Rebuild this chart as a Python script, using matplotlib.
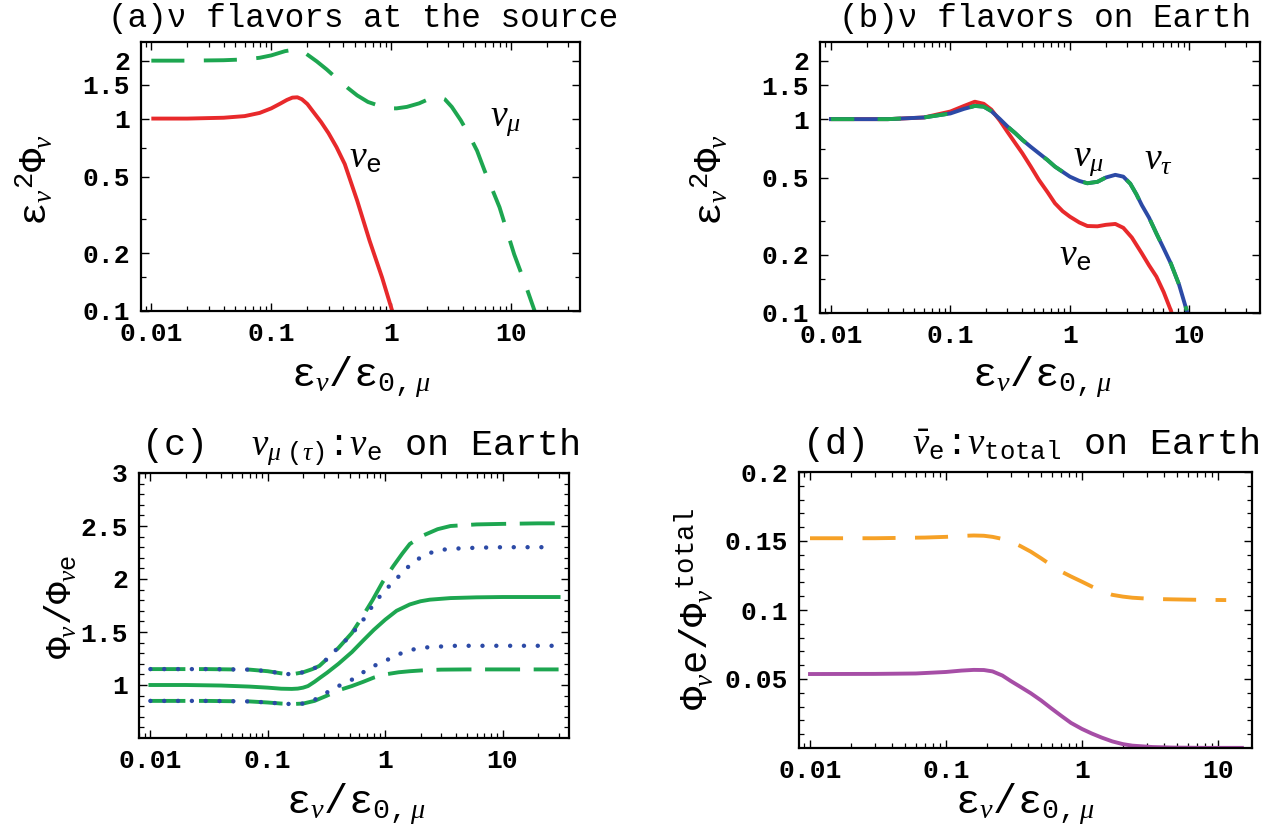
import matplotlib
matplotlib.use("Agg")
import matplotlib.pyplot as plt
from matplotlib.ticker import FixedLocator, NullFormatter, FixedFormatter

plt.rcParams['font.family'] = ['Liberation Mono', 'DejaVu Sans']
plt.rcParams['mathtext.fontset'] = 'custom'
plt.rcParams['mathtext.rm'] = 'Liberation Mono'
plt.rcParams['mathtext.it'] = 'Liberation Serif:italic'
plt.rcParams['mathtext.bf'] = 'Liberation Mono:bold'
plt.rcParams['mathtext.tt'] = 'Liberation Mono'
plt.rcParams['mathtext.fallback'] = 'stix'

# ---------------- data ----------------
# (a) source
a_nue_x = [0.01, 0.02, 0.04, 0.06, 0.08, 0.1, 0.12, 0.135, 0.15, 0.165, 0.18, 0.2, 0.22, 0.26, 0.30, 0.35, 0.41,
           0.52, 0.66, 0.84, 1.02]
a_nue_y = [1.0, 1.0, 1.01, 1.03, 1.07, 1.13, 1.2, 1.25, 1.285, 1.29, 1.26, 1.19, 1.10, 0.96, 0.84, 0.71, 0.58,
           0.375, 0.232, 0.149, 0.10]
a_num_x = [0.01, 0.02, 0.04, 0.06, 0.08, 0.1, 0.13, 0.16, 0.19, 0.24, 0.29, 0.35, 0.43, 0.52, 0.64, 0.78, 0.95,
           1.11, 1.35, 1.71, 2.1, 2.45, 2.8, 3.2, 3.8, 4.4, 5.2, 6.0, 8.0, 10.6, 13, 15.7]
a_num_y = [2.0, 2.0, 2.01, 2.03, 2.07, 2.13, 2.24, 2.29, 2.2, 1.98, 1.80, 1.62, 1.45, 1.32, 1.22, 1.17, 1.13,
           1.13, 1.15, 1.2, 1.27, 1.30, 1.26, 1.15, 0.98, 0.835, 0.68, 0.537, 0.346, 0.197, 0.14, 0.10]

# (b) Earth
b_nue_x = [0.01, 0.03, 0.06, 0.1, 0.13, 0.16, 0.19, 0.22, 0.26, 0.3, 0.35, 0.4, 0.47, 0.55, 0.65, 0.75, 0.87, 1.0,
           1.2, 1.4, 1.7, 2.0, 2.4, 2.8, 3.3, 4.0, 4.6, 5.3, 6.1, 7.0]
b_nue_y = [1.0, 1.0, 1.02, 1.095, 1.17, 1.23, 1.2, 1.12, 0.98, 0.86, 0.75, 0.667, 0.57, 0.486, 0.42, 0.368, 0.335,
           0.314, 0.293, 0.281, 0.28, 0.285, 0.288, 0.275, 0.245, 0.203, 0.176, 0.154, 0.128, 0.103]
b_numt_x = [0.01, 0.03, 0.06, 0.1, 0.13, 0.16, 0.19, 0.22, 0.26, 0.3, 0.35, 0.4, 0.47, 0.55, 0.65, 0.75, 0.87, 1.0,
            1.2, 1.4, 1.7, 2.0, 2.4, 2.8, 3.2, 3.6, 4.0, 4.6, 5.3, 6.1, 7.0, 8.2, 9.5]
b_numt_y = [1.0, 1.0, 1.02, 1.07, 1.13, 1.17, 1.16, 1.10, 1.0, 0.917, 0.845, 0.782, 0.72, 0.667, 0.615, 0.569, 0.535,
            0.505, 0.48, 0.467, 0.475, 0.50, 0.516, 0.505, 0.465, 0.41, 0.36, 0.31, 0.257, 0.215, 0.18, 0.14, 0.103]

# (c) ratios
c_mid_x = [0.01, 0.02, 0.04, 0.07, 0.1, 0.13, 0.16, 0.18, 0.2, 0.22, 0.25, 0.28, 0.32, 0.4, 0.52, 0.65, 0.8, 1.0,
           1.25, 1.62, 2.0, 2.4, 3.6, 6, 10, 20, 30]
c_mid_y = [1.0, 1.0, 0.995, 0.985, 0.975, 0.965, 0.963, 0.966, 0.975, 0.99, 1.03, 1.07, 1.116, 1.2, 1.31, 1.42, 1.52,
           1.616, 1.70, 1.76, 1.79, 1.805, 1.82, 1.827, 1.83, 1.83, 1.83]
c_updash_x = [0.01, 0.03, 0.07, 0.1, 0.13, 0.16, 0.2, 0.24, 0.275, 0.33, 0.4, 0.52, 0.62, 0.78, 0.95, 1.17, 1.4, 1.62,
              2.1, 2.8, 3.6, 6, 10, 20, 30]
c_updash_y = [1.15, 1.15, 1.145, 1.13, 1.11, 1.10, 1.12, 1.15, 1.18, 1.26, 1.35, 1.49, 1.62, 1.80, 1.97, 2.12, 2.24,
              2.33, 2.41, 2.47, 2.50, 2.515, 2.52, 2.525, 2.525]
c_updot_x = [0.01, 0.03, 0.07, 0.1, 0.13, 0.16, 0.2, 0.24, 0.275, 0.33, 0.38, 0.48, 0.62, 0.79, 1.0, 1.16, 1.39, 1.7,
             2.14, 2.8, 3.6, 6, 10, 20, 27]
c_updot_y = [1.15, 1.15, 1.145, 1.13, 1.11, 1.10, 1.12, 1.15, 1.18, 1.26, 1.33, 1.44, 1.58, 1.756, 1.90, 1.96, 2.06,
             2.15, 2.225, 2.27, 2.285, 2.295, 2.30, 2.30, 2.30]
c_lodot_x = [0.01, 0.03, 0.07, 0.1, 0.13, 0.16, 0.2, 0.25, 0.32, 0.4, 0.52, 0.65, 0.8, 0.93, 1.1, 1.5, 2.0, 2.6, 4, 8,
             15, 27]
c_lodot_y = [0.85, 0.85, 0.845, 0.835, 0.825, 0.82, 0.825, 0.86, 0.93, 0.99, 1.05, 1.12, 1.18, 1.21, 1.25, 1.32, 1.35,
             1.36, 1.37, 1.37, 1.37, 1.37]
c_lodash_x = [0.01, 0.03, 0.07, 0.1, 0.13, 0.16, 0.2, 0.25, 0.32, 0.4, 0.52, 0.65, 0.8, 1.0, 1.3, 1.62, 2.2, 3, 5, 10,
              20, 30]
c_lodash_y = [0.85, 0.85, 0.845, 0.835, 0.825, 0.82, 0.825, 0.85, 0.90, 0.95, 0.99, 1.03, 1.07, 1.10, 1.12, 1.13, 1.14,
              1.145, 1.147, 1.147, 1.147, 1.147]

# (d) anti-nu_e fraction
d_or_x = [0.01, 0.03, 0.07, 0.1, 0.13, 0.16, 0.19, 0.22, 0.26, 0.3, 0.35, 0.42, 0.5, 0.59, 0.7, 0.83, 1.0, 1.18, 1.4,
          1.67, 2.0, 2.35, 3.3, 4.7, 7, 11.5]
d_or_y = [0.152, 0.152, 0.1525, 0.153, 0.1537, 0.154, 0.1538, 0.1530, 0.1515, 0.1495, 0.1465, 0.1423, 0.1375, 0.1327,
          0.128, 0.1243, 0.1205, 0.117, 0.1137, 0.111, 0.1097, 0.1089, 0.108, 0.1077, 0.1074, 0.1072]
d_pu_x = [0.01, 0.03, 0.06, 0.1, 0.13, 0.16, 0.19, 0.22, 0.26, 0.3, 0.35, 0.42, 0.5, 0.59, 0.7, 0.83, 1.0, 1.18, 1.4,
          1.67, 2.0, 2.35, 3.3, 4.7, 8, 15]
d_pu_y = [0.0536, 0.0537, 0.054, 0.0551, 0.0561, 0.0566, 0.0565, 0.0555, 0.0525, 0.0485, 0.0445, 0.0397, 0.0345,
          0.0290, 0.0235, 0.0182, 0.0138, 0.0105, 0.0075, 0.0048, 0.0028, 0.0017, 0.0007, 0.0003, 0.0001, 0.0001]

xticks = [0.01, 0.1, 1, 10]
xticklabels = ['0.01', '0.1', '1', '10']
x_minor = [k * 10.0 ** e for e in range(-3, 2) for k in range(2, 10)]
ab_yticks = [0.1, 0.2, 0.5, 1, 1.5, 2]
ab_yticklabels = ['0.1', '0.2', '0.5', '1', '1.5', '2']
ab_yminor = [0.15, 0.3, 0.7]
c_yticks = [1, 1.5, 2, 2.5, 3]
c_yticklabels = ['1', '1.5', '2', '2.5', '3']
d_yticks = [0.05, 0.1, 0.15, 0.2]
d_yticklabels = ['0.05', '0.1', '0.15', '0.2']

RED = '#e8292b'
GREEN = '#1da650'
BLUE = '#2c4aa6'
ORANGE = '#f6a126'
PURPLE = '#a64ea6'

W, H = 1274, 827
fig = plt.figure(figsize=(W / 100, H / 100), dpi=100)


def add_ax(l, r, t, b):
    return fig.add_axes([l / W, 1 - b / H, (r - l) / W, (b - t) / H])


def ftext(x, y, s, **kw):
    fig.text(x / W, 1 - y / H, s, ha='center', va='center', **kw)


def style(ax):
    for sp in ax.spines.values():
        sp.set_linewidth(1.6)
    ax.tick_params(which='both', direction='in', top=True, right=True, width=1.0)
    ax.tick_params(which='major', length=6, pad=8, labelsize=19)
    ax.tick_params(which='minor', length=3.5, width=0.9)
    for lab in ax.get_xticklabels() + ax.get_yticklabels():
        lab.set_fontweight('bold')


def setup_x(ax, xlim):
    ax.set_xscale('log')
    ax.set_xlim(*xlim)
    ax.xaxis.set_major_locator(FixedLocator(xticks))
    ax.xaxis.set_major_formatter(FixedFormatter(xticklabels))
    ax.xaxis.set_minor_locator(FixedLocator(x_minor))
    ax.xaxis.set_minor_formatter(NullFormatter())


LW = 2.8
EPS = r'\mathrm{\epsilon}'
xlab = r'$' + EPS + r'_\nu/' + EPS + r'_{0,\mu}$'

# ---------- (a) ----------
ax = add_ax(141, 580, 42, 311)
ax.plot(a_nue_x, a_nue_y, color=RED, lw=LW, solid_capstyle='butt')
ax.plot(a_num_x, a_num_y, color=GREEN, lw=LW, dashes=(8.5, 5))
setup_x(ax, (0.0082, 37.5))
ax.set_yscale('log')
ax.set_ylim(0.1, 2.5)
ax.yaxis.set_major_locator(FixedLocator(ab_yticks))
ax.yaxis.set_major_formatter(FixedFormatter(ab_yticklabels))
ax.yaxis.set_minor_locator(FixedLocator(ab_yminor))
ax.yaxis.set_minor_formatter(NullFormatter())
style(ax)
ftext(365, 158, r'$\nu_{\mathrm{e}}$', fontsize=27)
ftext(505, 120, r'$\nu_{\mu}$', fontsize=27)

# ---------- (b) ----------
ax = add_ax(820, 1260, 42, 313)
ax.plot(b_nue_x, b_nue_y, color=RED, lw=LW)
ax.plot(b_numt_x, b_numt_y, color=BLUE, lw=LW)
ax.plot(b_numt_x, b_numt_y, color=GREEN, lw=LW, dashes=(6, 6))
setup_x(ax, (0.0081, 39))
ax.set_yscale('log')
ax.set_ylim(0.1, 2.5)
ax.yaxis.set_major_locator(FixedLocator(ab_yticks))
ax.yaxis.set_major_formatter(FixedFormatter(ab_yticklabels))
ax.yaxis.set_minor_locator(FixedLocator(ab_yminor))
ax.yaxis.set_minor_formatter(NullFormatter())
style(ax)
ftext(1088, 160, r'$\nu_{\mu}$', fontsize=27)
ftext(1158, 160, r'$\nu_{\tau}$', fontsize=27)
ftext(1075, 256, r'$\nu_{\mathrm{e}}$', fontsize=27)

# ---------- (c) ----------
ax = add_ax(139, 569, 473, 738)
ax.plot(c_mid_x, c_mid_y, color=GREEN, lw=LW)
ax.plot(c_updash_x, c_updash_y, color=GREEN, lw=LW, dashes=(9, 3.5))
ax.plot(c_lodash_x, c_lodash_y, color=GREEN, lw=LW, dashes=(9, 3.5))
ax.plot(c_updot_x, c_updot_y, color=BLUE, lw=3.2, dashes=(0.01, 3.1), dash_capstyle='round')
ax.plot(c_lodot_x, c_lodot_y, color=BLUE, lw=3.2, dashes=(0.01, 3.1), dash_capstyle='round')
setup_x(ax, (0.0080, 36.8))
ax.set_ylim(0.5, 3.0)
ax.yaxis.set_major_locator(FixedLocator(c_yticks))
ax.yaxis.set_major_formatter(FixedFormatter(c_yticklabels))
ax.yaxis.set_minor_locator(FixedLocator([0.6 + 0.1 * i for i in range(24)]))
ax.yaxis.set_minor_formatter(NullFormatter())
style(ax)

# ---------- (d) ----------
ax = add_ax(799, 1252, 472, 748)
ax.plot(d_or_x, d_or_y, color=ORANGE, lw=LW, dashes=(8.5, 5))
ax.plot(d_pu_x, d_pu_y, color=PURPLE, lw=LW)
setup_x(ax, (0.0083, 17.8))
ax.set_ylim(0.0, 0.2)
ax.yaxis.set_major_locator(FixedLocator(d_yticks))
ax.yaxis.set_major_formatter(FixedFormatter(d_yticklabels))
ax.yaxis.set_minor_locator(FixedLocator([0.01 * i for i in range(1, 20)]))
ax.yaxis.set_minor_formatter(NullFormatter())
style(ax)

# ---------- titles & labels ----------
ftext(363, 19, '(a)ν flavors at the source', fontsize=23.5)
ftext(1045, 19, '(b)ν flavors on Earth', fontsize=23.5)
ftext(360, 447, r'(c)  $\nu_{\mu\ (\tau)}$:$\nu_{\mathrm{e}}$ on Earth', fontsize=26.5)
ftext(1030, 445, r'(d)  $\bar{\nu}_{\mathrm{e}}$:$\nu_{\mathrm{total}}$ on Earth', fontsize=26.5)

XS = 29
ftext(361, 377, xlab, fontsize=XS)
ftext(1042, 377, xlab, fontsize=XS)
ftext(356, 804, xlab, fontsize=XS)
ftext(1025, 804, xlab, fontsize=XS)

ftext(35, 180, r'$' + EPS + r'_\nu{}^2\Phi_\nu$', fontsize=28, rotation=90)
ftext(710, 180, r'$' + EPS + r'_\nu{}^2\Phi_\nu$', fontsize=28, rotation=90)
ftext(62, 607, r'$\Phi_\nu/\Phi_{\nu\mathrm{e}}$', fontsize=26, rotation=90)
ftext(694, 609, r'$\Phi_\nu\mathrm{e}/\Phi_\nu{}^{\mathrm{total}}$', fontsize=28, rotation=90)

fig.savefig('out.png', dpi=100)
